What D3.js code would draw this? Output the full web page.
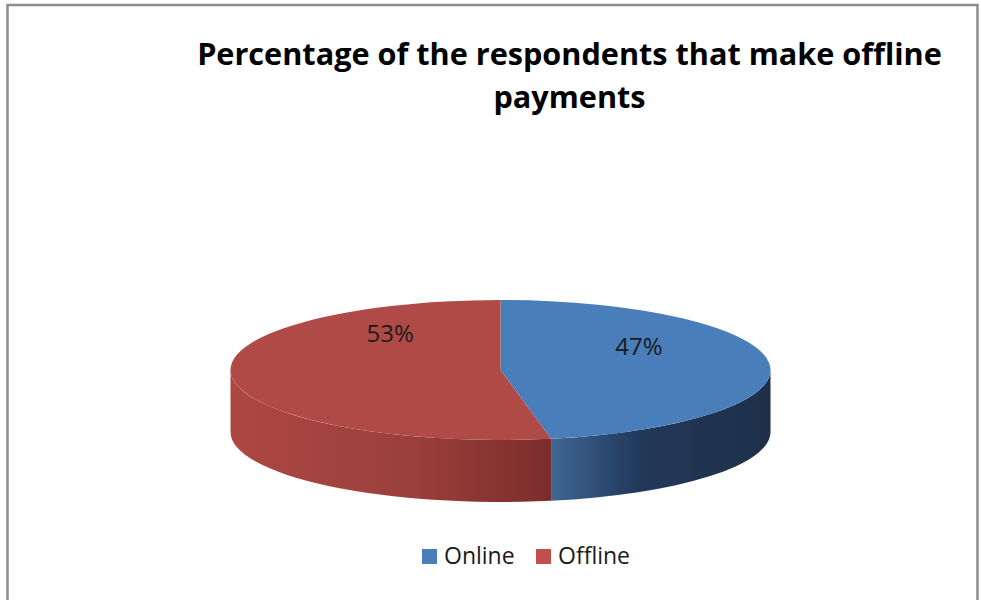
<!DOCTYPE html>
<html>
<head>
<meta charset="utf-8">
<script src="https://cdn.jsdelivr.net/npm/d3@7"></script>
<style>
  html, body { margin: 0; padding: 0; background: #fff; }
  svg { display: block; }
</style>
</head>
<body>
<svg id="chart" width="981" height="600"></svg>
<script>
// Chart data
const categories = ["Online", "Offline"];
const values = [47, 53];
const valueLabels = ["47%", "53%"];
const titleLines = ["Percentage of the respondents that make offline", "payments"];

// Styling
const topColors = ["#4a7ebb", "#b04a47"];
const sideStops = [
  ["#3f6794", "#22385a", "#1e3049"],
  ["#ac4742", "#9c403c", "#7b2d2b"]
];
const legendColors = ["#4a7ebb", "#c0504d"];

const svg = d3.select("#chart");

// Chart frame
svg.append("rect")
  .attr("x", 7.5).attr("y", 5)
  .attr("width", 970).attr("height", 620)
  .attr("fill", "#fff")
  .attr("stroke", "#8d8d8d")
  .attr("stroke-width", 2.5);

// Title, fitted to its line width
const titleX = 569.5;
const title = svg.append("g")
  .attr("font-family", "'Open Sans', sans-serif")
  .attr("font-weight", "bold")
  .attr("fill", "#000");
const t1 = title.append("text")
  .attr("x", titleX).attr("y", 65)
  .attr("text-anchor", "middle")
  .attr("font-size", 30)
  .text(titleLines[0]);
const w1 = t1.node().getComputedTextLength();
const titleSize = 30 * 745 / w1;
t1.attr("font-size", titleSize);
title.append("text")
  .attr("x", titleX).attr("y", 108)
  .attr("text-anchor", "middle")
  .attr("font-size", titleSize)
  .text(titleLines[1]);

// 3D pie geometry
const cx = 500.5, cy = 370, rx = 270, ry = 70, depth = 62;
const pie = d3.pie().sort(null).value(d => d)(values);

// angle measured clockwise from 12 o'clock
const pt = (a, dy = 0) => [cx + rx * Math.sin(a), cy - ry * Math.cos(a) + dy];

function arcPath(a0, a1, dy) {
  // elliptical arc from a0 to a1 (clockwise) at vertical offset dy
  const p0 = pt(a0, dy), p1 = pt(a1, dy);
  const large = (a1 - a0) > Math.PI ? 1 : 0;
  return { p0, p1, d: `A ${rx} ${ry} 0 ${large} 1 ${p1[0]} ${p1[1]}` };
}

const defs = svg.append("defs");

// Side walls (front half of the rim, angles between PI/2 and 3PI/2)
pie.forEach((s, i) => {
  const a0 = Math.max(s.startAngle, Math.PI / 2);
  const a1 = Math.min(s.endAngle, 3 * Math.PI / 2);
  if (a1 <= a0) return;
  const top = arcPath(a0, a1, 0);
  const p0 = pt(a0), p1 = pt(a1);
  const b1 = pt(a1, depth), b0 = pt(a0, depth);
  const large = (a1 - a0) > Math.PI ? 1 : 0;
  const d = `M ${p0[0]} ${p0[1]} ${top.d} L ${b1[0]} ${b1[1]} ` +
            `A ${rx} ${ry} 0 ${large} 0 ${b0[0]} ${b0[1]} Z`;
  const gid = "side" + i;
  const xs = [p0[0], p1[0]].sort((a, b) => a - b);
  const g = defs.append("linearGradient")
    .attr("id", gid)
    .attr("gradientUnits", "userSpaceOnUse")
    .attr("x1", xs[0]).attr("x2", xs[1])
    .attr("y1", 0).attr("y2", 0);
  const stops = sideStops[i];
  const mids = i === 0 ? 0.4 : 0.55;
  g.append("stop").attr("offset", 0).attr("stop-color", stops[0]);
  g.append("stop").attr("offset", mids).attr("stop-color", stops[1]);
  g.append("stop").attr("offset", 1).attr("stop-color", stops[2]);
  svg.append("path").attr("d", d).attr("fill", `url(#${gid})`);
});

// Top faces
pie.forEach((s, i) => {
  const a = arcPath(s.startAngle, s.endAngle, 0);
  svg.append("path")
    .attr("d", `M ${cx} ${cy} L ${a.p0[0]} ${a.p0[1]} ${a.d} Z`)
    .attr("fill", topColors[i]);
});

// Value labels, placed near each slice centroid
const labelNudge = [[4, -21], [24, -41]];
pie.forEach((s, i) => {
  const mid = (s.startAngle + s.endAngle) / 2;
  const c = [cx + 0.5 * rx * Math.sin(mid), cy - 0.5 * ry * Math.cos(mid)];
  svg.append("text")
    .attr("x", c[0] + labelNudge[i][0])
    .attr("y", c[1] + labelNudge[i][1])
    .attr("text-anchor", "middle")
    .attr("dominant-baseline", "central")
    .attr("font-family", "'Open Sans', sans-serif")
    .attr("font-size", 24)
    .attr("fill", "#1a1a1a")
    .text(valueLabels[i]);
});

// Legend
const legend = svg.append("g")
  .attr("font-family", "'Open Sans', sans-serif")
  .attr("font-size", 23)
  .attr("fill", "#1a1a1a");
const legendX = [422, 536];
categories.forEach((c, i) => {
  legend.append("rect")
    .attr("x", legendX[i]).attr("y", 549)
    .attr("width", 15).attr("height", 15)
    .attr("fill", legendColors[i]);
  legend.append("text")
    .attr("x", legendX[i] + 22).attr("y", 564)
    .text(c);
});
</script>
</body>
</html>
